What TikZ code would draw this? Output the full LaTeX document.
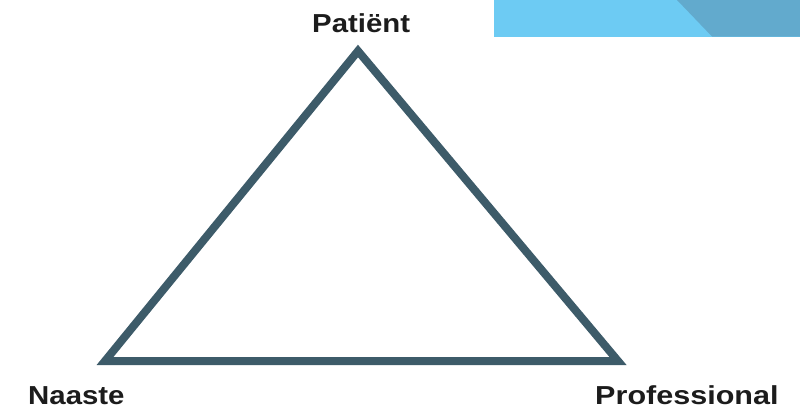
\documentclass[tikz,border=0pt]{standalone}
\usepackage{fontspec}
\setmainfont{Liberation Sans}
\usepackage{tikz}
\usetikzlibrary{calc}

\definecolor{edgeslate}{HTML}{3D5B69}
\definecolor{barlight}{HTML}{6DCBF3}
\definecolor{bardark}{HTML}{62AACD}
\definecolor{labelgray}{HTML}{1C1C1C}

\tikzset{
    corner label/.style={font=\fontsize{26}{28}\selectfont\bfseries, text=labelgray, inner sep=0pt, xscale=1.13},
}

\begin{document}
\begin{tikzpicture}[x=1pt, y=-1pt]
    \useasboundingbox (0,0) rectangle (800,408);

    % banner in the corner
    \fill[barlight] (494,0) rectangle (800,36.5);
    \fill[bardark] (677,0) -- (712,36.5) -- (800,36.5) -- (800,0) -- cycle;

    \coordinate (top) at (358,51);
    \coordinate (left) at (105,361);
    \coordinate (right) at (618,361);

    \draw[edgeslate, line width=8pt, line join=miter] (left) -- (top) -- (right) -- cycle;

    \node[corner label, anchor=base west] (patient) at (312,32) {Patiënt};
    \node[corner label, anchor=base west] (naaste) at (28,404) {Naaste};
    \node[corner label, anchor=base west, xscale=1.04] (professional) at (595,404) {Professional};
\end{tikzpicture}
\end{document}
